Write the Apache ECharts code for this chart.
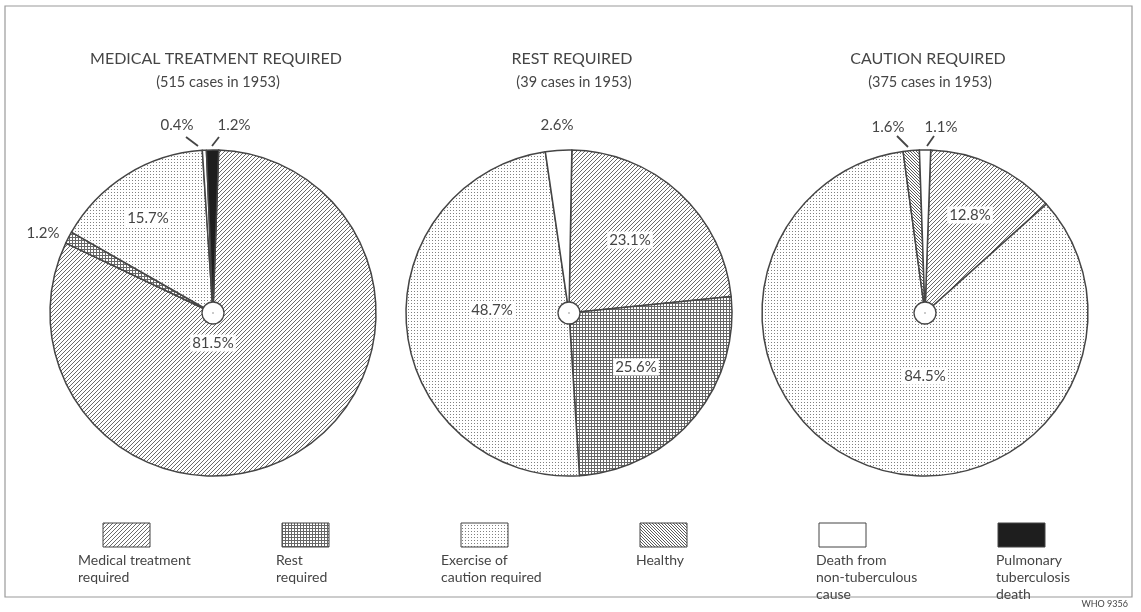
<!DOCTYPE html>
<html>
<head>
<meta charset="utf-8">
<script src="https://cdn.jsdelivr.net/npm/echarts@6/dist/echarts.min.js"></script>
<style>
  html, body { margin: 0; padding: 0; background: #fff; }
  #chart { width: 1141px; height: 612px; }
</style>
</head>
<body>
<div id="chart"></div>
<script>
// categories, clockwise order inside each pie
const categories = [
  "Medical treatment\nrequired",
  "Rest\nrequired",
  "Exercise of\ncaution required",
  "Healthy",
  "Death from\nnon-tuberculous\ncause",
  "Pulmonary\ntuberculosis\ndeath",
];
const pieTitles = ["MEDICAL TREATMENT REQUIRED", "REST REQUIRED", "CAUTION REQUIRED"];
const pieSubtitles = ["(515 cases in 1953)", "(39 cases in 1953)", "(375 cases in 1953)"];

// percentage of each 1953 group found in each category later
const medicalGroup = [81.5, 1.2, 15.7, 0, 0.4, 1.2];
const restGroup = [23.1, 25.6, 48.7, 0, 2.6, 0];
const cautionGroup = [12.8, 0, 84.5, 1.6, 1.1, 0];
const groups = [medicalGroup, restGroup, cautionGroup];

const INK = "#454545";
const FONT = "Lato, 'DejaVu Sans', sans-serif";
const pieCenters = [[213, 313], [569, 313], [925, 313]];
const pieRadius = 163;
const startAngles = [88, 89, 88];

// label placement relative to pie centre (by category index)
const labelSpots = [
  { 0: [0, 30], 1: [-170, -80], 2: [-65, -95], 4: [-36, -188], 5: [21, -188] },
  { 0: [61, -73], 1: [67, 54], 2: [-77, -3], 4: [-12, -188] },
  { 0: [45, -98], 2: [0, 63], 3: [-37, -186], 4: [16, -186] },
];
const leaderLines = [
  { 4: [[-27, -176], [-15, -167]], 5: [[6, -176], [-1, -167]] },
  {},
  { 3: [[-28, -177], [-17, -166]], 4: [[9, -177], [2, -167]] },
];

function patternFill(size, draw) {
  const canvas = document.createElement("canvas");
  canvas.width = size;
  canvas.height = size;
  const ctx = canvas.getContext("2d");
  ctx.fillStyle = "#fff";
  ctx.fillRect(0, 0, size, size);
  draw(ctx, size);
  return { image: canvas, repeat: "repeat" };
}

const fills = [
  patternFill(4, (ctx, s) => { ctx.fillStyle = "#6a6a6a"; for (let i = 0; i < s; i++) ctx.fillRect(i, s - 1 - i, 1, 1); }),
  patternFill(3, (ctx, s) => { ctx.fillStyle = "#666"; ctx.fillRect(0, 0, s, 1); ctx.fillRect(0, 0, 1, s); }),
  patternFill(3, (ctx) => { ctx.fillStyle = "#808080"; ctx.fillRect(0, 0, 1, 1); }),
  patternFill(3, (ctx, s) => { ctx.fillStyle = "#5a5a5a"; for (let i = 0; i < s; i++) ctx.fillRect(i, i, 1, 1); }),
  "#ffffff",
  "#1e1e1e",
];

function pieSeries(values, index) {
  const [cx, cy] = pieCenters[index];
  const items = values
    .map((value, cat) => ({ value, cat }))
    .filter((item) => item.value > 0);
  return {
    type: "pie",
    center: [cx, cy],
    radius: [0, pieRadius],
    startAngle: startAngles[index],
    clockwise: true,
    avoidLabelOverlap: false,
    silent: true,
    itemStyle: { borderColor: INK, borderWidth: 1.5 },
    label: {
      show: true,
      position: "inside",
      formatter: (p) => `${p.value.toFixed(1)}%`,
      color: INK,
      fontFamily: FONT,
      fontSize: 15,
      backgroundColor: "#fff",
      padding: [1, 2],
    },
    labelLine: { show: false },
    labelLayout: (p) => {
      const cat = items[p.dataIndex].cat;
      const spot = labelSpots[index][cat];
      const out = { x: cx + spot[0], y: cy + spot[1], align: "center", verticalAlign: "middle" };
      const line = leaderLines[index][cat];
      if (line) {
        const a = [cx + line[0][0], cy + line[0][1]];
        const b = [cx + line[1][0], cy + line[1][1]];
        out.labelLinePoints = [a, [(a[0] + b[0]) / 2, (a[1] + b[1]) / 2], b];
      }
      return out;
    },
    data: items.map((item) => {
      const small = item.value < 3;
      return {
        name: categories[item.cat],
        value: item.value,
        itemStyle: { color: fills[item.cat] },
        label: small ? { position: "outside", backgroundColor: "transparent" } : undefined,
        labelLine: leaderLines[index][item.cat]
          ? { show: true, length: 8, length2: 0, lineStyle: { color: INK, width: 1.8 } }
          : undefined,
      };
    }),
  };
}

function titleGraphics() {
  const out = [];
  pieTitles.forEach((title, i) => {
    const x = pieCenters[i][0] + 3;
    out.push({ type: "text", x, y: 59, style: { text: title, fill: INK, font: `16px ${FONT}`, textAlign: "center", textVerticalAlign: "middle" } });
    out.push({ type: "text", x: x + 2, y: 82, style: { text: pieSubtitles[i], fill: INK, font: `14.5px ${FONT}`, textAlign: "center", textVerticalAlign: "middle" } });
  });
  return out;
}

function hubGraphics() {
  const out = [];
  pieCenters.forEach(([x, y]) => {
    out.push({ type: "circle", shape: { cx: x, cy: y, r: 11 }, style: { fill: "#fff", stroke: INK, lineWidth: 1.3 }, z: 10 });
    out.push({ type: "circle", shape: { cx: x, cy: y, r: 0.8 }, style: { fill: "#888" }, z: 11 });
  });
  return out;
}

function legendGraphics() {
  const textShift = [-25, -6, -20, -4, -3, -2];
  const out = [];
  categories.forEach((label, i) => {
    const x = 103 + i * 179;
    out.push({ type: "rect", shape: { x, y: 523, width: 47, height: 24 }, style: { fill: fills[i], stroke: INK, lineWidth: 1 } });
    out.push({
      type: "text",
      x: x + textShift[i],
      y: 552,
      style: { text: label, fill: INK, font: `14px ${FONT}`, lineHeight: 17, textAlign: "left", textVerticalAlign: "top" },
    });
  });
  return out;
}

const chart = echarts.init(document.getElementById("chart"), null, { renderer: "canvas" });
chart.setOption({
  animation: false,
  backgroundColor: "#fff",
  graphic: [
    { type: "rect", shape: { x: 5, y: 6, width: 1127, height: 591 }, style: { fill: "none", stroke: "#9a9a9a", lineWidth: 1.2 } },
    ...titleGraphics(),
    ...hubGraphics(),
    ...legendGraphics(),
    { type: "text", x: 1128, y: 604, style: { text: "WHO 9356", fill: INK, font: `9px ${FONT}`, textAlign: "right", textVerticalAlign: "middle" } },
  ],
  series: groups.map(pieSeries),
});
</script>
</body>
</html>
